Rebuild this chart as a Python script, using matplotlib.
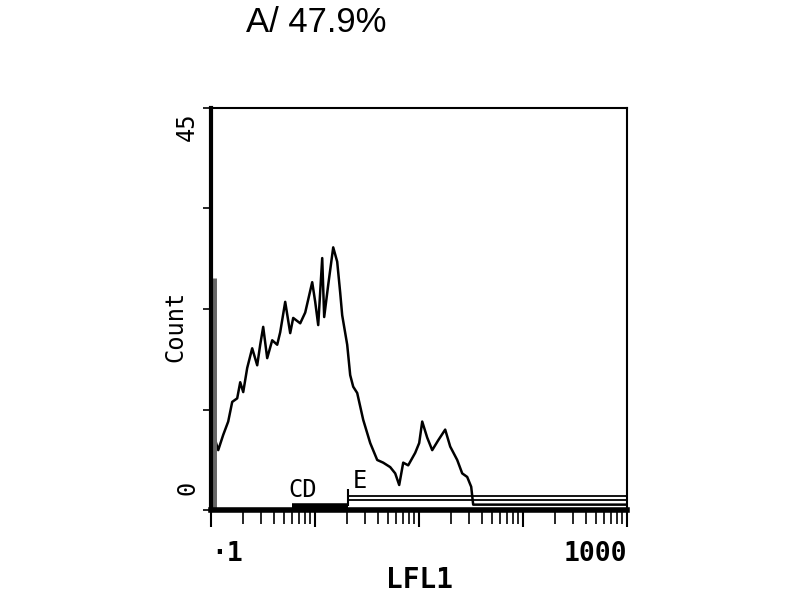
import matplotlib
matplotlib.use('Agg')
import matplotlib.pyplot as plt
from matplotlib.ticker import LogLocator, NullFormatter, FixedLocator

# LFL1 channel (log scale) and counts
lfl1 = [0.105, 0.1168, 0.1304, 0.1457, 0.1592, 0.1778, 0.1901, 0.2032, 0.2219, 0.2478,
        0.2769, 0.296, 0.3162, 0.3455, 0.386, 0.4311, 0.4608, 0.5147, 0.5749, 0.6144,
        0.7177, 0.8015, 0.9358, 1.0, 1.069, 1.168, 1.22, 1.334, 1.49, 1.627,
        1.74, 1.818, 2.031, 2.17, 2.32, 2.534, 2.894, 3.379, 3.947, 4.506,
        5.263, 5.878, 6.423, 7.019, 7.839, 9.153, 10.0, 10.69, 11.94, 13.34,
        15.23, 17.78, 19.87, 23.2, 25.91, 28.94, 31.62, 33.04, 1000]
count = [8.5, 6.7, 8.4, 9.9, 12.1, 12.5, 14.3, 13.2, 15.9, 18.1,
         16.2, 18.5, 20.5, 17.0, 19.0, 18.5, 19.9, 23.3, 19.8, 21.5,
         20.9, 22.1, 25.5, 23.3, 20.7, 28.2, 21.6, 25.2, 29.4, 27.8,
         24.3, 21.8, 18.5, 15.1, 13.8, 13.1, 10.1, 7.5, 5.6, 5.3,
         4.8, 4.1, 2.8, 5.3, 5.0, 6.4, 7.5, 9.9, 8.1, 6.7,
         7.8, 9.0, 7.1, 5.6, 4.1, 3.7, 2.6, 0.6, 0.6]
first_channel = 26.0

gate_e = (2.08, 1000)
gate_d = (0.6, 2.08)

mono = 'DejaVu Sans Mono'

fig = plt.figure(figsize=(8, 6), dpi=100)
ax = fig.add_axes([0.264, 0.15, 0.52, 0.67])

ax.plot(lfl1, count, color='black', lw=1.8)
# first-channel pile-up
ax.vlines(0.104, 0, first_channel, color='#666666', lw=5)

# gate markers
ax.hlines([1.1, 1.6], gate_e[0], gate_e[1], color='black', lw=1.3)
ax.vlines(gate_e[0], 0.5, 2.3, color='black', lw=1.5)
ax.hlines(0.5, gate_d[0], gate_d[1], color='black', lw=4)
ax.text(0.55, 1.4, 'CD', fontsize=17, family=mono)
ax.text(2.3, 2.5, 'E', fontsize=17, family=mono)

ax.set_xscale('log')
ax.set_xlim(0.1, 1000)
ax.set_ylim(0, 45)

ax.xaxis.set_major_locator(FixedLocator([0.1, 1, 10, 100, 1000]))
ax.xaxis.set_minor_locator(LogLocator(base=10, subs=range(2, 10)))
ax.xaxis.set_minor_formatter(NullFormatter())
ax.set_xticklabels(['·1', '', '', '', '1000'], family=mono,
                   fontsize=19, fontweight='bold')
ax.get_xticklabels()[0].set_ha('left')
ax.get_xticklabels()[-1].set_ha('right')
ax.tick_params(axis='x', which='major', direction='out', length=12, width=1.5, pad=10)
ax.tick_params(axis='x', which='minor', direction='out', length=10, width=1.2)

ax.set_yticks([0, 11.25, 22.5, 33.75, 45])
ax.set_yticklabels([])
ax.tick_params(axis='y', direction='out', length=6, width=1.2)
ax.text(-0.058, 0.953, '45', transform=ax.transAxes, rotation=90,
        ha='center', va='center', family=mono, fontsize=17)
ax.text(-0.058, 0.055, '0', transform=ax.transAxes, rotation=90,
        ha='center', va='center', family=mono, fontsize=17)

for s in ['top', 'right']:
    ax.spines[s].set_linewidth(1.5)
ax.spines['left'].set_linewidth(3)
ax.spines['bottom'].set_linewidth(4)

ax.set_xlabel('LFL1', family=mono, fontsize=20, fontweight='bold')
ax.xaxis.set_label_coords(0.5, -0.14)
ax.set_ylabel('Count', family=mono, fontsize=17)
ax.yaxis.set_label_coords(-0.058, 0.458)

fig.text(0.395, 0.962, 'A/ 47.9%', ha='center', va='center',
         family='Liberation Sans', fontsize=25)

fig.savefig('out.png', dpi=100)
